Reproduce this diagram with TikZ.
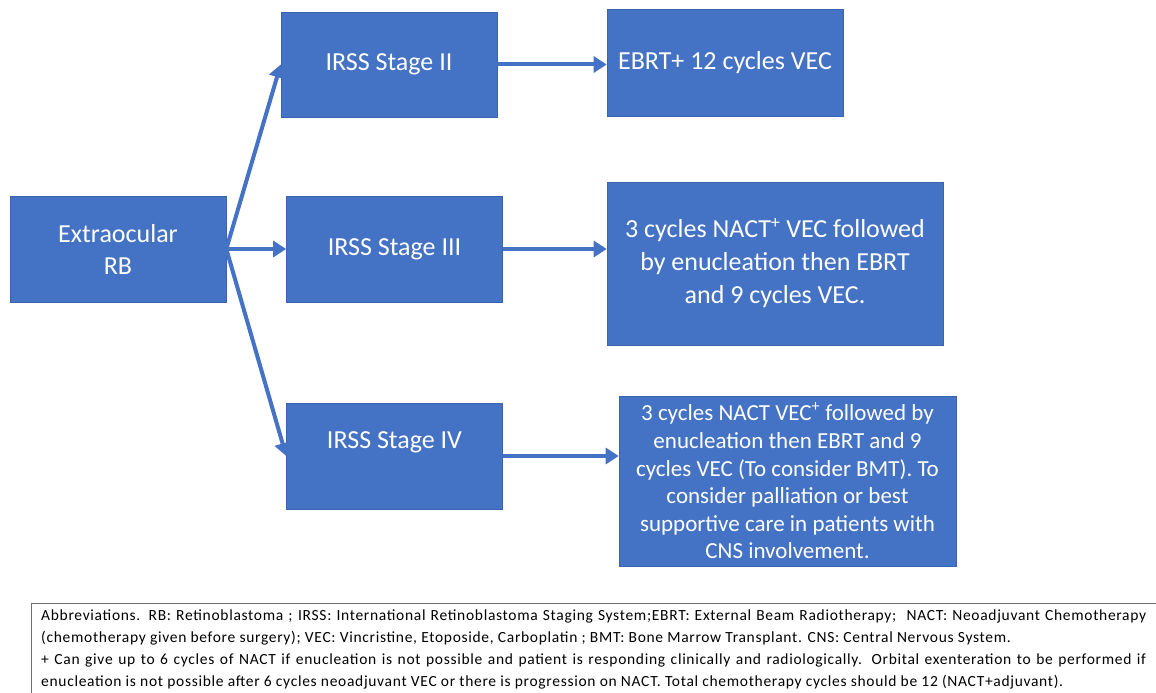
\documentclass[tikz,border=0pt]{standalone}
\usepackage{fontspec}
\setmainfont{Carlito}
\newfontfamily\notefont[LetterSpace=4.5]{Carlito}
\usetikzlibrary{arrows.meta}
\usetikzlibrary{positioning}
\definecolor{boxblue}{HTML}{4472C4}
\definecolor{boxedge}{HTML}{3A64B0}
\definecolor{noteedge}{HTML}{6F6F6F}
\tikzset{
  stagebox/.style={draw=boxedge, line width=0.6pt, fill=boxblue, text=white,
    minimum width=216pt, minimum height=106pt, inner sep=0pt, align=center,
    font=\fontsize{26}{32}\selectfont},
  treatbox/.style={stagebox, inner sep=4pt},
  flow/.style={draw=boxblue, line width=4pt, -{Triangle[length=13pt,width=16pt]}},
}

\begin{document}
\begin{tikzpicture}[x=1pt,y=-1pt]
\useasboundingbox (0,0) rectangle (1156,693);
% Stages
\node[stagebox] (rb) at (118,249) {Extraocular\\RB};
\node[stagebox, minimum height=105pt] (s2) at (389,64.5) {IRSS Stage II};
\node[stagebox] (s3) at (394.5,249) {IRSS Stage III};
\node[stagebox, text height=18pt, text depth=34pt] (s4) at (394.5,456) {IRSS Stage IV};
% Treatments
\node[treatbox, minimum width=236pt, minimum height=107pt] (t2) at (725,62.5) {EBRT+ 12 cycles VEC};
\node[treatbox, minimum width=336pt, minimum height=163pt,
  font=\fontsize{26}{33}\selectfont] (t3) at (775,263.5)
  {3 cycles NACT\textsuperscript{+} VEC followed\\by enucleation then EBRT\\and 9 cycles VEC.};
\node[treatbox, minimum width=337pt, minimum height=170pt,
  font=\fontsize{23}{27.6}\selectfont] (t4) at (787.5,481)
  {3 cycles NACT VEC\textsuperscript{+} followed by\\enucleation then EBRT and 9\\cycles VEC (To consider BMT). To\\consider palliation or best\\supportive care in patients with\\CNS involvement.};
\draw[flow] (rb.east) -- (s2.west);
\draw[flow] (rb.east) -- (s3.west);
\draw[flow] (rb.east) -- (s4.west);
\draw[flow] (s2.east) -- (t2.west |- s2.east); % II
\draw[flow] (s3.east) -- (t3.west |- s3.east); % III
\draw[flow] (s4.east) -- (t4.west |- s4.east); % IV
%% Footnote with the abbreviations
\draw[noteedge, line width=0.8pt] (31,710) -- (31,603) -- (1170,603);
\node[anchor=north west, inner sep=0pt, text width=1105pt, align=justify,
  font=\notefont\fontsize{15.5}{22}\selectfont] (notes) at (41,610)
  {Abbreviations. RB: Retinoblastoma ; IRSS: International Retinoblastoma Staging System;EBRT: External Beam Radiotherapy;\ \ NACT: Neoadjuvant Chemotherapy\linebreak
  (chemotherapy given before surgery); VEC: Vincristine, Etoposide, Carboplatin ; BMT: Bone Marrow Transplant. CNS: Central Nervous System.\\
  + Can give up to 6 cycles of NACT if enucleation is not possible and patient is responding clinically and radiologically. Orbital exenteration to be performed if\linebreak
  enucleation is not possible after 6 cycles neoadjuvant VEC or there is progression on NACT. Total chemotherapy cycles should be 12 (NACT+adjuvant).};
\end{tikzpicture}
\end{document}
